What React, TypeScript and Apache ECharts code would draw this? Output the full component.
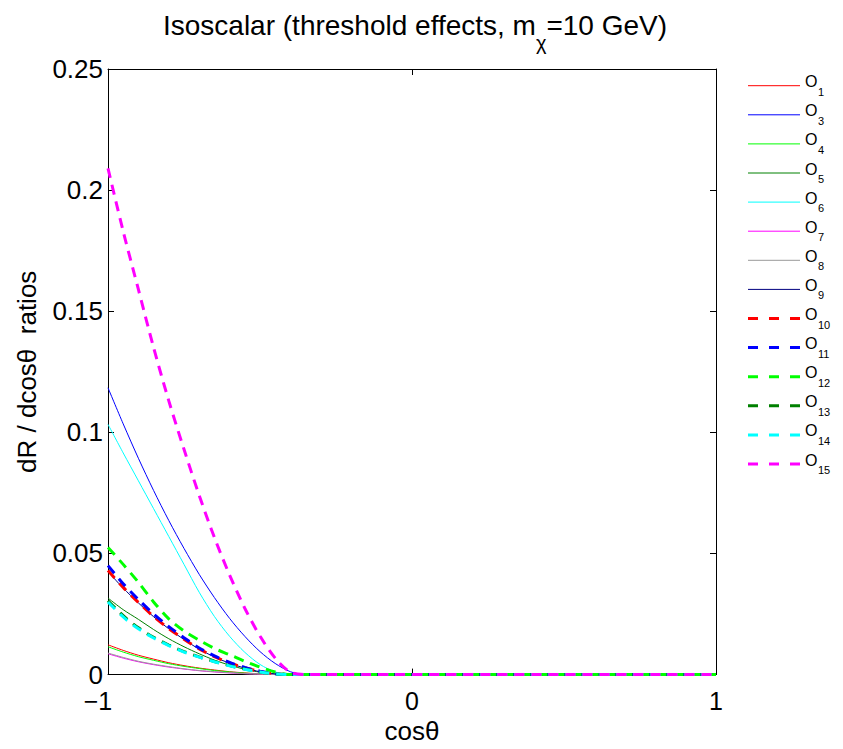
import React, { useEffect, useRef } from "react";
import * as echarts from "echarts";

// cos(theta) grid shared by all curves
const cosTheta = [-1, -0.95, -0.9, -0.85, -0.8, -0.75, -0.7, -0.65, -0.6, -0.55, -0.5, -0.45, -0.4, -0.35, 1];

const O1 = [0.0123, 0.0100, 0.0080, 0.0064, 0.0049, 0.0037, 0.0027, 0.0019, 0.0012, 0.0007, 0.0003, 0.0001, 0, 0, 0];
const O3 = [0.1184, 0.1035, 0.0893, 0.0760, 0.0636, 0.0521, 0.0414, 0.0318, 0.0232, 0.0158, 0.0095, 0.0046, 0.0012, 0, 0];
const O4 = [0.0115, 0.0093, 0.0074, 0.0059, 0.0045, 0.0034, 0.0025, 0.0017, 0.0011, 0.0006, 0.0003, 0.0001, 0, 0, 0];
const O5 = [0.0316, 0.0268, 0.0228, 0.0186, 0.0148, 0.0115, 0.0086, 0.0060, 0.0039, 0.0022, 0.0010, 0.0002, 0, 0, 0];
const O6 = [0.1033, 0.0915, 0.0800, 0.0685, 0.0570, 0.0455, 0.0340, 0.0240, 0.0158, 0.0092, 0.0042, 0.0011, 0, 0, 0];
const O7 = [0.0086, 0.0068, 0.0053, 0.0041, 0.0031, 0.0023, 0.0016, 0.0011, 0.0007, 0.0004, 0.0002, 0.0001, 0, 0, 0];
const O8 = [0.0089, 0.0071, 0.0055, 0.0043, 0.0033, 0.0024, 0.0017, 0.0012, 0.0008, 0.0004, 0.0002, 0.0001, 0, 0, 0];
const O9 = [0.0425, 0.0357, 0.0296, 0.0239, 0.0189, 0.0145, 0.0105, 0.0073, 0.0047, 0.0027, 0.0012, 0.0003, 0, 0, 0];
const O10 = [0.0430, 0.0360, 0.0298, 0.0240, 0.0190, 0.0146, 0.0106, 0.0074, 0.0048, 0.0028, 0.0013, 0.0003, 0, 0, 0];
const O11 = [0.0450, 0.0375, 0.0310, 0.0250, 0.0198, 0.0152, 0.0110, 0.0077, 0.0050, 0.0030, 0.0014, 0.0003, 0, 0, 0];
const O12 = [0.0525, 0.0455, 0.0381, 0.0300, 0.0230, 0.0180, 0.0142, 0.0108, 0.0082, 0.0055, 0.0031, 0.0011, 0, 0, 0];
const O13 = [0.0305, 0.0243, 0.0193, 0.0154, 0.0122, 0.0095, 0.0073, 0.0054, 0.0037, 0.0023, 0.0011, 0.0003, 0, 0, 0];
const O14 = [0.0300, 0.0238, 0.0189, 0.0151, 0.0120, 0.0093, 0.0072, 0.0053, 0.0036, 0.0022, 0.0011, 0.0003, 0, 0, 0];
const O15 = [0.209, 0.183, 0.159, 0.135, 0.113, 0.093, 0.074, 0.0566, 0.0411, 0.0274, 0.0159, 0.0068, 0.0010, 0, 0];

const seriesNames = ["O1", "O3", "O4", "O5", "O6", "O7", "O8", "O9", "O10", "O11", "O12", "O13", "O14", "O15"];
const seriesSubs = ["1", "3", "4", "5", "6", "7", "8", "9", "10", "11", "12", "13", "14", "15"];
const seriesValues = [O1, O3, O4, O5, O6, O7, O8, O9, O10, O11, O12, O13, O14, O15];
const seriesColors = [
  "#ff0000", "#0000ff", "#00ff00", "#008000", "#00ffff", "#ff00ff", "#999999", "#000080",
  "#ff0000", "#0000ff", "#00ff00", "#008000", "#00ffff", "#ff00ff",
];
const seriesDashed = [false, false, false, false, false, false, false, false, true, true, true, true, true, true];

const xTicks = [-1, 0, 1];
const yTicks = [0, 0.05, 0.1, 0.15, 0.2, 0.25];

const FONT = '"Liberation Sans", Arial, Helvetica, sans-serif';

function measure(text: string, size: number): number {
  const c = document.createElement("canvas").getContext("2d");
  if (!c) return text.length * size * 0.5;
  c.font = `${size}px ${FONT}`;
  return c.measureText(text).width;
}

export default function App() {
  const ref = useRef<HTMLDivElement>(null);
  useEffect(() => {
    document.body.style.margin = "0";
    if (!ref.current) return;
    const chart = echarts.init(ref.current, undefined, { renderer: "svg" });

    const gridLeft = 108, gridTop = 69, gridW = 608, gridH = 607;

    // Title pieces
    const tMain1 = "Isoscalar (threshold effects, m";
    const tSub = "χ";
    const tMain2 = "=10 GeV)";
    const tFs = 28, tSubFs = 20;
    const w1 = measure(tMain1, tFs), w2 = measure(tSub, tSubFs), w3 = measure(tMain2, tFs);
    const tStart = 415 - (w1 + w2 + w3) / 2;
    const graphics: any[] = [
      { type: "text", x: tStart, y: 25, style: { text: tMain1, fontSize: tFs, fontFamily: FONT, fill: "#000", verticalAlign: "middle", align: "left" } },
      { type: "text", x: tStart + w1, y: 43, style: { text: tSub, fontSize: tSubFs, fontFamily: FONT, fill: "#000", verticalAlign: "middle", align: "left" } },
      { type: "text", x: tStart + w1 + w2, y: 25, style: { text: tMain2, fontSize: tFs, fontFamily: FONT, fill: "#000", verticalAlign: "middle", align: "left" } },
    ];

    // Legend
    seriesNames.forEach((n, i) => {
      const y = 85.7 + i * 29.1;
      graphics.push({
        type: "line",
        shape: { x1: 748, y1: y, x2: 800, y2: y },
        style: {
          stroke: seriesColors[i],
          lineWidth: seriesDashed[i] ? 3 : 1,
          lineDash: seriesDashed[i] ? [10, 11] : null,
        },
      });
      graphics.push({
        type: "text", x: 805, y: y - 4,
        style: { text: "O", fontSize: 16, fontFamily: FONT, fill: "#000", verticalAlign: "middle", align: "left" },
      });
      graphics.push({
        type: "text", x: 818, y: y + 6,
        style: { text: seriesSubs[i], fontSize: 11, fontFamily: FONT, fill: "#000", verticalAlign: "middle", align: "left" },
      });
    });

    const axisCommon = {
      type: "value" as const,
      axisLine: { show: true, onZero: false, lineStyle: { color: "#000", width: 1 } },
      axisTick: { show: true, inside: true, length: 6, lineStyle: { color: "#000", width: 1 } },
      splitLine: { show: false },
    };

    const option: any = {
      animation: false,
      backgroundColor: "#fff",
      grid: { left: gridLeft, top: gridTop, width: gridW, height: gridH, containLabel: false },
      xAxis: [
        {
          ...axisCommon,
          position: "bottom",
          min: xTicks[0],
          max: xTicks[xTicks.length - 1],
          interval: 1,
          axisLabel: {
            color: "#000", fontSize: 25, fontFamily: FONT, margin: 16, lineHeight: 20,
            formatter: (v: number) => (v < 0 ? "{m|−" + Math.abs(v) + "}" : String(v)),
            rich: { m: { fontSize: 25, fontFamily: FONT, color: "#000", lineHeight: 20, padding: [0, 20, 0, 0] } },
          },
          name: "cosθ",
          nameLocation: "middle",
          nameGap: 42,
          nameTextStyle: { color: "#000", fontSize: 26, fontFamily: FONT },
        },
        {
          ...axisCommon,
          position: "top",
          min: xTicks[0],
          max: xTicks[xTicks.length - 1],
          interval: 1,
          axisLabel: { show: false },
        },
      ],
      yAxis: [
        {
          ...axisCommon,
          position: "left",
          min: yTicks[0],
          max: yTicks[yTicks.length - 1],
          interval: 0.05,
          axisLabel: { color: "#000", fontSize: 26, fontFamily: FONT, margin: 5, lineHeight: 20 },
          name: "dR / dcosθ  ratios",
          nameLocation: "middle",
          nameGap: 68,
          nameTextStyle: { color: "#000", fontSize: 26, fontFamily: FONT },
        },
        {
          ...axisCommon,
          position: "right",
          min: yTicks[0],
          max: yTicks[yTicks.length - 1],
          interval: 0.05,
          axisLabel: { show: false },
        },
      ],
      series: seriesNames.map((n, i) => ({
        name: n,
        type: "line",
        xAxisIndex: 0,
        yAxisIndex: 0,
        data: cosTheta.map((x, j) => [x, seriesValues[i][j]]),
        symbol: "none",
        showSymbol: false,
        smooth: 0.3,
        lineStyle: {
          color: seriesColors[i],
          width: seriesDashed[i] ? 3 : 1,
          type: seriesDashed[i] ? [10, 7] : "solid",
        },
        itemStyle: { color: seriesColors[i] },
        z: 2 + i,
      })),
      graphic: graphics,
    };
    chart.setOption(option);
    return () => chart.dispose();
  }, []);
  return <div ref={ref} style={{ width: 843, height: 749 }} />;
}
